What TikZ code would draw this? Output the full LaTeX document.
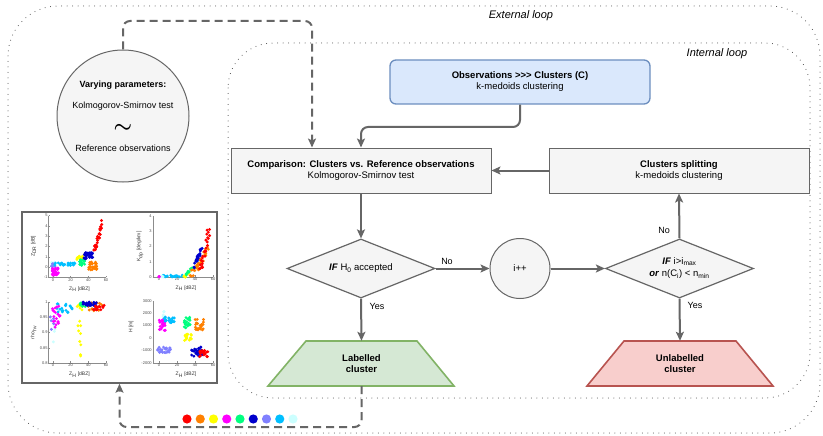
\documentclass[tikz,border=0pt]{standalone}
\usepackage{fontspec}
\usepackage{bm}
\setmainfont{Liberation Sans}
\usetikzlibrary{arrows.meta,shapes.geometric,calc}
\definecolor{lineg}{HTML}{666666}
\definecolor{boxfill}{HTML}{F5F5F5}
\definecolor{bluefill}{HTML}{DAE8FC}
\definecolor{bluedraw}{HTML}{6C8EBF}
\definecolor{greenfill}{HTML}{D5E8D4}
\definecolor{greendraw}{HTML}{82B366}
\definecolor{redfill}{HTML}{F8CECC}
\definecolor{reddraw}{HTML}{B85450}
\definecolor{cRed}{HTML}{FF0000}
\definecolor{cOr}{HTML}{FF8000}
\definecolor{cYel}{HTML}{FFFF00}
\definecolor{cMag}{HTML}{FF00FF}
\definecolor{cGreen}{HTML}{00FF80}
\definecolor{cBlue}{HTML}{0000CC}
\definecolor{cSlate}{HTML}{8080FF}
\definecolor{cSky}{HTML}{00BFFF}
\definecolor{cCyan}{HTML}{CCFFFF}
\newcommand\dotcloud[6]{\foreach \k in {1,...,#6}{\pgfmathsetmacro\xx{#2+(#3-#2)*rnd}\pgfmathsetmacro\yy{#4+(#5-#4)*rnd}\fill[#1] (\xx,\yy) circle[radius=1.6pt];}}
\newcommand\dotline[8]{\foreach \k in {1,...,#8}{\pgfmathsetmacro\tpar{rnd}\pgfmathsetmacro\xx{#2+(#4-#2)*\tpar+#6*(rnd-0.5)}\pgfmathsetmacro\yy{#3+(#5-#3)*\tpar+#7*(rnd-0.5)}\fill[#1] (\xx,\yy) circle[radius=1.6pt];}}
\begin{document}
\begin{tikzpicture}[x=1pt,y=-1pt,font=\fontsize{9.5}{11}\selectfont,
  conn/.style={draw=lineg,line width=2pt,-{Stealth[length=9pt,width=8pt,inset=2pt]}},
  dconn/.style={conn,dash pattern=on 8pt off 5pt},
  loopline/.style={draw=black!75,line width=1pt,dash pattern=on 0pt off 5.5pt,line cap=round},
  procbox/.style={draw=lineg,fill=boxfill,line width=1pt,minimum width=260,minimum height=45,align=center,inner sep=0},
  decision/.style={diamond,aspect=2.5,draw=lineg,fill=boxfill,line width=1.2pt,minimum width=148,minimum height=59,inner sep=0,align=center},
  lbl/.style={font=\fontsize{9}{11}\selectfont},
  circtxt/.style={font=\fontsize{9}{11}\selectfont},
  looplbl/.style={font=\fontsize{11}{13}\selectfont\itshape},
  axis/.style={draw=black!45,line width=0.4pt},
  tick/.style={font=\fontsize{4}{4}\selectfont,inner sep=0.8pt,text=black!70},
  axl/.style={font=\fontsize{5}{5}\selectfont,inner sep=0,text=black!80}]
\useasboundingbox (0,0) rectangle (823,436);
\fill[white] (0,0) rectangle (823,436);
\pgfmathsetseed{7}
% loops
\draw[loopline,rounded corners=50] (8,6) rectangle (820,433);
\draw[loopline,rounded corners=45] (228,43) rectangle (810,398);
\node[looplbl] at (521,16) {External loop};
\node[looplbl] at (717,54) {Internal loop};
% varying parameters circle
\node[circle,draw=lineg,fill=boxfill,line width=1pt,minimum size=132,inner sep=0] (vp) at (123,116) {};
\node[circtxt,font=\fontsize{9}{11}\selectfont\bfseries] at (123,85) {Varying parameters:};
\node[circtxt] at (123,106) {Kolmogorov-Smirnov test};
\node[inner sep=0,font=\fontsize{21}{21}\selectfont] at (123,132) {\raisebox{0pt}[0pt][0pt]{$\bm{\sim}$}};
\node[circtxt] at (123,148) {Reference observations};
% boxes
\node[procbox,draw=bluedraw,fill=bluefill,line width=1.3pt,rounded corners=6,minimum height=44] (obs) at (520,82) {\textbf{Observations >\kern0pt>\kern0pt> Clusters (C)}\\k-medoids clustering};
\node[procbox] (comp) at (361,170.5) {\textbf{Comparison: Clusters vs. Reference observations}\\Kolmogorov-Smirnov test};
\node[procbox] (split) at (679,170.5) {\textbf{Clusters splitting}\\k-medoids clustering};
\node[decision] (d1) at (361,268.5) {\textbf{\textit{IF}} H\textsubscript{0} accepted};
\node[circle,draw=lineg,fill=boxfill,line width=1pt,minimum size=60,inner sep=0] (inc) at (520,268.5) {i++};
\node[decision] (d2) at (679.5,268.5) {\textbf{\textit{IF}} i>i\textsubscript{max}\\[1pt]\textbf{\textit{or}} n(C\textsubscript{i}) < n\textsubscript{min}};
% trapezoids
\filldraw[fill=greenfill,draw=greendraw,line width=1.6pt] (306,341) -- (417,341) -- (454,386) -- (268,386) -- cycle;
\node[minimum width=111,minimum height=45,inner sep=0,align=center,font=\fontsize{9.5}{11}\selectfont\bfseries] (lab) at (361.5,363.5) {Labelled\\cluster};
\filldraw[fill=redfill,draw=reddraw,line width=1.6pt] (624,341) -- (736,341) -- (773,386) -- (587,386) -- cycle;
\node[minimum width=112,minimum height=45,inner sep=0,align=center,font=\fontsize{9.5}{11}\selectfont\bfseries] (unl) at (680,363.5) {Unlabelled\\cluster};
% connectors
\coordinate (dtop) at (312,21);
\draw[dconn,rounded corners=7] (vp.north) |- (dtop) -- (dtop |- comp.north);
\coordinate (k1) at (361,127);
\draw[conn,rounded corners=7] (obs.south) |- (k1) -- (comp.north);
\draw[conn] (split.west) -- (comp.east);
\draw[conn] (comp.south) -- (d1.north);
\draw[conn] (d1.south) -- (lab.north);
\draw[conn] (d1.east) -- (inc.west);
\draw[conn] (inc.east) -- (d2.west);
\draw[conn] (d2.north) -- (split.south);
\draw[conn] (d2.south) -- (unl.north);
\node[lbl] at (447,261) {No};
\node[lbl] at (377,306) {Yes};
\node[lbl] at (664,230) {No};
\node[lbl] at (695,305) {Yes};
% plots box
\node[draw=lineg,line width=1.5pt,fill=white,minimum width=195,minimum height=171,inner sep=0] (plots) at (119.5,297.5) {};
\coordinate (yb) at (0,427);
\draw[dconn,rounded corners=7] (lab.south) |- (plots.south |- yb) -- (plots.south);
% colour dots
\foreach \c [count=\i] in {cRed,cOr,cYel,cMag,cGreen,cBlue,cSlate,cSky,cCyan}
  \fill[\c] ({187+13.25*(\i-1)},419) circle[radius=4.6pt];
% panel 1
\begin{scope}[shift={(53,267)},x=0.883pt,y=10.3pt]
  \draw[axis] (-5,5) -- (-5,-1) -- (60,-1);
  \foreach \v in {5,4,3,2,1,0,-1} {\draw[axis] (-5,\v) -- ++(1.5,0); \node[tick,anchor=east] at (-5,\v) {\v};}
  \foreach \v in {0,20,40,60} {\draw[axis] (\v,-1) -- ++(0,0.15); \node[tick,anchor=north] at (\v,-1) {\v};}
  \node[axl,rotate=90] at (-22,2) {Z\textsubscript{DR} [dB]};
  \node[axl] at (30,-2.15) {Z\textsubscript{H} [dBZ]};
  \dotcloud{cCyan}{-2}{4}{0}{0.5}{8}
  \dotcloud{cSlate}{-2}{3}{0}{0.4}{6}
  \dotcloud{cSky}{2}{25}{0.15}{0.4}{25}
  \dotcloud{cMag}{-1}{7}{-0.8}{-0.1}{30}
  \dotcloud{cYel}{27}{35}{0.7}{1.1}{18}
  \dotcloud{cGreen}{30}{37}{0.1}{0.7}{18}
  \dotcloud{cBlue}{35}{45}{0.8}{1.4}{30}
  \dotcloud{cOr}{40}{50}{-0.3}{0.5}{30}
  \dotline{cRed}{47}{1.5}{57}{4.7}{3}{0.3}{28}
\end{scope}
% panel 2
\begin{scope}[shift={(159,277)},x=0.9pt,y=15.25pt]
  \draw[axis] (-7,4) -- (-7,0) -- (60,0);
  \foreach \v in {4,3,2,1,0} {\draw[axis] (-7,\v) -- ++(1.5,0); \node[tick,anchor=east] at (-7,\v) {\v};}
  \foreach \v in {0,20,40,60} {\draw[axis] (\v,0) -- ++(0,0.1); \node[tick,anchor=north] at (\v,0) {\v};}
  \node[axl,rotate=90] at (-21,2) {K\textsubscript{dp} [deg/km]};
  \node[axl] at (30,-0.74) {Z\textsubscript{H} [dBZ]};
  \dotcloud{cSky}{2}{28}{0}{0.12}{20}
  \dotcloud{cCyan}{0}{8}{0}{0.05}{5}
  \dotcloud{cMag}{-1}{1}{0}{0.03}{3}
  \dotline{cYel}{28}{0}{36}{0.5}{2}{0.1}{12}
  \dotline{cGreen}{30}{0.1}{37}{0.7}{2}{0.1}{10}
  \dotline{cOr}{36}{0.1}{54}{1.8}{4}{0.4}{30}
  \dotline{cBlue}{36}{0.2}{48}{2}{2}{0.2}{25}
  \dotline{cRed}{46}{0.5}{56}{3.3}{4}{0.5}{25}
\end{scope}
% panel 3
\begin{scope}[shift={(53,607)},x=0.883pt,y=305pt]
  \draw[axis] (-5,1) -- (-5,0.8) -- (60,0.8);
  \foreach \v in {1,0.95,0.9,0.85,0.8} {\draw[axis] (-5,\v) -- ++(1.5,0); \node[tick,anchor=east] at (-5,\v) {\v};}
  \foreach \v in {0,20,40,60} {\draw[axis] (\v,0.8) -- ++(0,0.005); \node[tick,anchor=north] at (\v,0.8) {\v};}
  \node[axl,rotate=90] at (-22,0.9) {rho\textsubscript{hv}};
  \node[axl] at (30,0.7607) {Z\textsubscript{H} [dBZ]};
  \dotline{cCyan}{-1}{0.83}{5}{0.99}{2}{0.01}{8}
  \dotcloud{cSlate}{-3}{1}{0.91}{0.96}{5}
  \dotcloud{cSky}{4}{22}{0.965}{0.995}{20}
  \dotcloud{cMag}{-1}{8}{0.91}{0.99}{20}
  \dotcloud{cYel}{28}{34}{0.82}{0.99}{10}
  \dotcloud{cYel}{26}{34}{0.98}{0.995}{6}
  \dotcloud{cGreen}{30}{37}{0.985}{1.0}{12}
  \dotcloud{cOr}{38}{55}{0.97}{1.0}{20}
  \dotcloud{cBlue}{34}{50}{0.985}{1.0}{25}
  \dotcloud{cRed}{45}{58}{0.97}{0.99}{15}
\end{scope}
% panel 4
\begin{scope}[shift={(159,338)},x=0.9pt,y=12.4pt]
  \draw[axis] (-7,3) -- (-7,-2) -- (60,-2);
  \foreach \v/\t in {3/3000,2/2000,1/1000,0/0,-1/-1000,-2/-2000} {\draw[axis] (-7,\v) -- ++(1.5,0); \node[tick,anchor=east] at (-7,\v) {\t};}
  \foreach \v in {0,20,40,60} {\draw[axis] (\v,-2) -- ++(0,0.12); \node[tick,anchor=north] at (\v,-2) {\v};}
  \node[axl,rotate=90] at (-31,0.9) {H [m]};
  \node[axl] at (30,-2.97) {Z\textsubscript{H} [dBZ]};
  \dotcloud{cCyan}{2}{6}{1.7}{2.2}{6}
  \dotcloud{cMag}{0}{8}{0.5}{1.5}{25}
  \dotcloud{cSky}{5}{18}{1.2}{1.7}{20}
  \dotcloud{cSlate}{-2}{14}{-1.2}{-0.7}{25}
  \dotcloud{cGreen}{28}{35}{0.7}{1.7}{20}
  \dotcloud{cOr}{40}{50}{0.6}{1.5}{25}
  \dotcloud{cYel}{28}{36}{-0.2}{0.3}{15}
  \dotcloud{cBlue}{36}{48}{-1.5}{-0.7}{30}
  \dotcloud{cRed}{45}{55}{-1.6}{-1.0}{20}
\end{scope}
\end{tikzpicture}
\end{document}
